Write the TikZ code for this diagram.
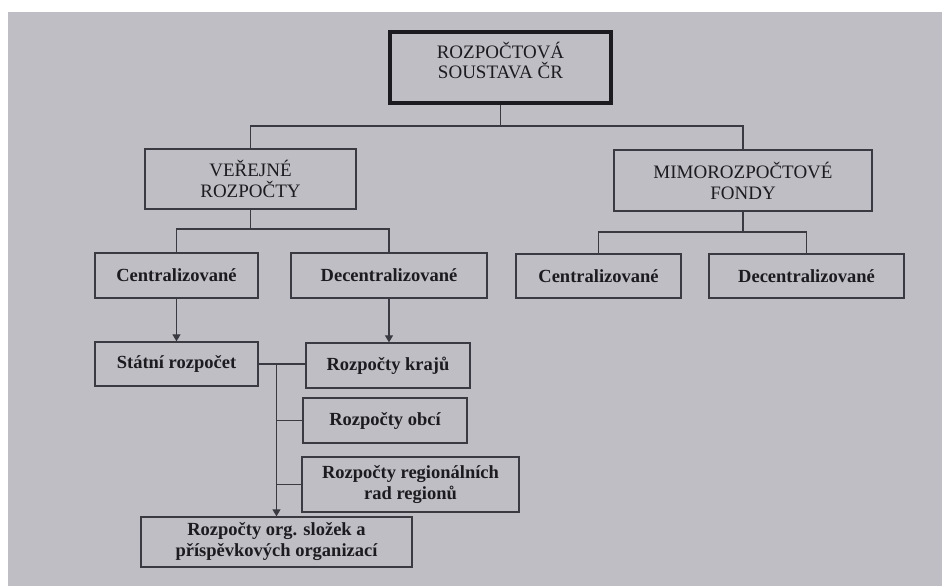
\documentclass[tikz,border=0pt]{standalone}
\usepackage{fontspec}
\setmainfont{Liberation Serif}
\usetikzlibrary{arrows.meta}
\definecolor{bg}{RGB}{190,190,196}
\definecolor{ink}{RGB}{28,28,32}
\definecolor{linec}{RGB}{58,58,66}
\begin{document}
\begin{tikzpicture}[x=1pt,y=-1pt,
  box/.style={draw=linec, line width=1.3pt, rectangle, inner sep=0pt, text=ink, align=center,
    font=\fontsize{18.5}{21}\selectfont\bfseries},
  capbox/.style={box, font=\fontsize{19}{21}\selectfont},
  topbox/.style={draw=ink, line width=4pt, rectangle, minimum width=221pt, minimum height=71pt},
  captext/.style={inner sep=0pt, text=ink, align=center, font=\fontsize{19}{20}\selectfont},
  wire/.style={draw=linec, line width=1.2pt},
  arr/.style={wire, -{Triangle[width=8pt,length=7pt]}}]
\useasboundingbox (0,0) rectangle (942,586);
\fill[white] (0,0) rectangle (942,586);
\fill[bg] (8,12) rectangle (942,586);

% level 0
\node[topbox] (top) at (500.5,67.5) {};
\node[captext] (toptext) at (500.5,60) {ROZPOČTOVÁ\\SOUSTAVA ČR};

% level 1
\node[capbox, minimum width=211pt, minimum height=60pt] (ver) at (250.5,179) {VEŘEJNÉ\\ROZPOČTY};
\node[capbox, minimum width=258pt, minimum height=61pt] (mimo) at (743,180.5) {MIMOROZPOČTOVÉ\\FONDY};

% level 2
\node[box, minimum width=163pt, minimum height=45pt] (c1) at (176.5,275.5) {Centralizované};
\node[box, minimum width=196pt, minimum height=45pt] (d1) at (389,275.5) {Decentralizované};
\node[box, minimum width=165pt, minimum height=44pt] (c2) at (598.5,276) {Centralizované};
\node[box, minimum width=195pt, minimum height=44pt] (d2) at (806.5,276) {Decentralizované};

% level 3
\node[box, minimum width=163pt, minimum height=44pt] (stat) at (176.5,364) {Státní rozpočet};
\node[box, minimum width=164pt, minimum height=45pt] (kraje) at (388,365.5) {Rozpočty krajů};
\node[box, minimum width=164pt, minimum height=45pt] (obce) at (385,420.5) {Rozpočty obcí};
\node[box, minimum width=217pt, minimum height=55pt] (reg) at (410.5,484.5) {Rozpočty regionálních\\rad regionů};
\node[box, minimum width=271pt, minimum height=50pt] (org) at (276.5,542) {Rozpočty org. složek a\\příspěvkových organizací};

% connectors
\coordinate (j0) at (500.5,126);
\draw[wire] (top.south) -- (j0);
\draw[wire] (ver.north) |- (j0) -| (mimo.north);

\coordinate (j1) at (250.5,229);
\draw[wire] (ver.south) -- (j1);
\draw[wire] (c1.north) |- (j1) -| (d1.north);

\coordinate (j2) at (743,232);
\draw[wire] (mimo.south) -- (j2);
\draw[wire] (c2.north) |- (j2) -| (d2.north);

\draw[arr] (c1.south) -- (stat.north);
\draw[arr] (d1.south) -- (d1.south |- kraje.north);

\draw[wire] (stat.east) -- (stat.east -| kraje.west);
\coordinate (j3) at (stat.east -| org.north);
\draw[arr] (j3) -- (org.north);
\draw[wire] (obce.west) -- (obce.west -| org.north);
\draw[wire] (reg.west) -- (reg.west -| org.north);
\end{tikzpicture}
\end{document}
